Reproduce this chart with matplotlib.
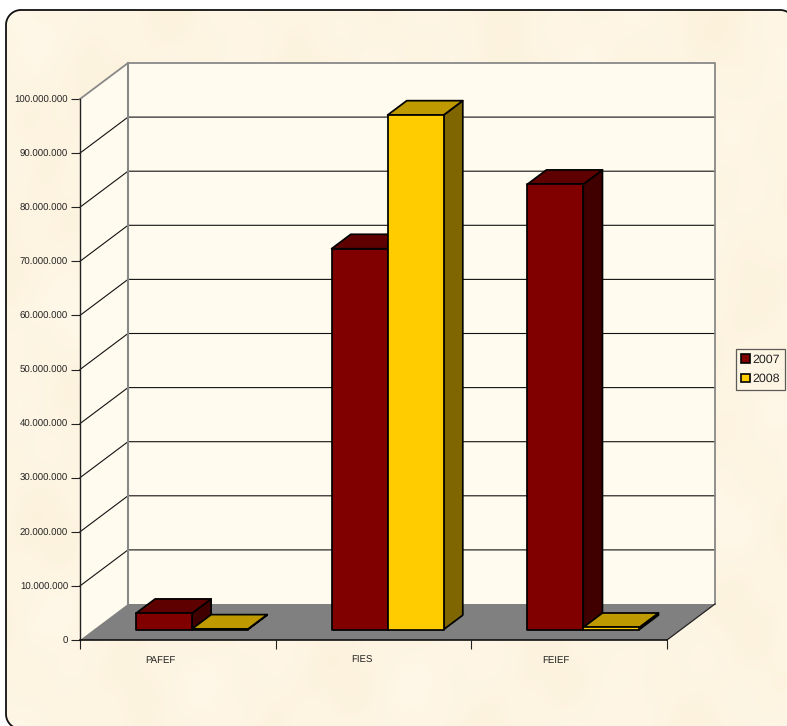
import numpy as np
import matplotlib
matplotlib.use("Agg")
import matplotlib.pyplot as plt
from matplotlib.patches import Polygon, Patch
from matplotlib.ticker import FuncFormatter

plt.rcParams['font.family'] = ['Liberation Sans', 'DejaVu Sans']
plt.rcParams['text.hinting'] = 'none'

categories = ["PAFEF", "FIES", "FEIEF"]
series_names = ["2007", "2008"]
values_2007 = [3000000, 70400000, 82300000]
values_2008 = [100000, 95100000, 400000]
y_ticks = list(range(0, 100000001, 10000000))
label_pos = [0.41, 1.44, 2.43]

W, H = 787, 726
AX_L, AX_R, AX_B, AX_T = 80, 667, 640, 99
fig = plt.figure(figsize=(W / 100, H / 100), dpi=100, facecolor="white")

def rounded_outline(x0, y0, x1, y1, r, n=24):
    pts = []
    centres = [(x0 + r, y0 + r, 180), (x1 - r, y0 + r, 270), (x1 - r, y1 - r, 0), (x0 + r, y1 - r, 90)]
    for cx, cy, a0 in centres:
        a = np.radians(np.linspace(a0, a0 + 90, n))
        pts.extend(zip(cx + r * np.cos(a), cy + r * np.sin(a)))
    return pts

# --- paper-like panel ---
bg = fig.add_axes([0, 0, 1, 1])
bg.axis("off")
yy, xx = np.mgrid[0:H:2, 0:W:2]
tex = (np.sin(xx / 31.0 + yy / 53.0) + np.sin(xx / 17.0 - yy / 29.0 + 1.3) * 0.7
       + np.sin(yy / 23.0 + 0.5) * np.sin(xx / 41.0) * 0.8
       + np.sin(xx / 11.0 + yy / 13.0) * 0.3)
tex = (tex - tex.min()) / (tex.max() - tex.min())
c0 = np.array([252, 242, 220]) / 255
c1 = np.array([255, 247, 232]) / 255
rgb = c0 + (c1 - c0) * tex[..., None]
im = bg.imshow(rgb, extent=(0, W, H, 0), aspect="auto", zorder=1, interpolation="bilinear")
bg.set_xlim(0, W)
bg.set_ylim(H, 0)
outline = rounded_outline(6, 10, 795, 729, 15)
fill = Polygon(outline, closed=True, facecolor="none", edgecolor="none")
bg.add_patch(fill)
im.set_clip_path(fill)
bg.add_patch(Polygon(outline, closed=True, facecolor="none", edgecolor="#111111", linewidth=1.3, zorder=3))

# --- chart axes: front plane of the 3D box ---
ax = fig.add_axes([AX_L / W, 1 - AX_B / H, (AX_R - AX_L) / W, (AX_B - AX_T) / H])
ax.patch.set_alpha(0)
ax.set_xlim(0, 3)
ax.set_ylim(0, 100000000)

px_x = 3 / (AX_R - AX_L)
px_y = 100000000 / (AX_B - AX_T)
DX = 48 * px_x
DY = 36 * px_y
WALL = "#FFFBEF"
kw = dict(clip_on=False)

def off(x, y, d):
    return (x + DX * d, y + DY * d)

# walls and floor
ax.add_patch(Polygon([(0, 0), off(0, 0, 1), off(0, 1e8, 1), (0, 1e8)], facecolor=WALL, edgecolor="none", zorder=1, **kw))
ax.add_patch(Polygon([off(0, 0, 1), off(3, 0, 1), off(3, 1e8, 1), off(0, 1e8, 1)], facecolor=WALL, edgecolor="none", zorder=1, **kw))
ax.add_patch(Polygon([(0, 0), (3, 0), off(3, 0, 1), off(0, 0, 1)], facecolor="#808080", edgecolor="none", zorder=1.5, **kw))
for v in y_ticks[1:-1]:
    xs = [0, off(0, v, 1)[0], off(3, v, 1)[0]]
    ys = [v, off(0, v, 1)[1], off(3, v, 1)[1]]
    ax.plot(xs, ys, color="#111111", lw=0.8, zorder=2, **kw)
ax.plot([0, off(0, 1e8, 1)[0], off(3, 1e8, 1)[0], off(3, 0, 1)[0]],
        [1e8, off(0, 1e8, 1)[1], off(3, 1e8, 1)[1], off(3, 0, 1)[1]],
        color="#888888", lw=1.3, zorder=2, **kw)
ax.plot([off(0, 0, 1)[0], off(0, 1e8, 1)[0]], [off(0, 0, 1)[1], off(0, 1e8, 1)[1]],
        color="#888888", lw=1.5, zorder=2, **kw)
ax.plot([3, off(3, 0, 1)[0]], [0, off(3, 0, 1)[1]], color="#222222", lw=0.9, zorder=2, **kw)

# bars
NEAR, FAR = 0.29, 0.69
GAP = 42 * px_x
BW = 56 * px_x
colors = {"2007": ("#800000", "#5F0000", "#400000"), "2008": ("#FFCC00", "#BF9900", "#806600")}
z = 3
for i, cat in enumerate(categories):
    for j, (name, vals) in enumerate(zip(series_names, (values_2007, values_2008))):
        v = vals[i]
        x0 = i + GAP + j * BW
        x1 = x0 + BW
        front, top, side = colors[name]
        ec = dict(edgecolor="black", linewidth=1.25, joinstyle="round", **kw)
        ax.add_patch(Polygon([off(x1, 0, NEAR), off(x1, 0, FAR), off(x1, v, FAR), off(x1, v, NEAR)], facecolor=side, zorder=z, **ec))
        ax.add_patch(Polygon([off(x0, v, NEAR), off(x1, v, NEAR), off(x1, v, FAR), off(x0, v, FAR)], facecolor=top, zorder=z, **ec))
        ax.add_patch(Polygon([off(x0, 0, NEAR), off(x1, 0, NEAR), off(x1, v, NEAR), off(x0, v, NEAR)], facecolor=front, zorder=z, **ec))
        z += 1

# axes, ticks and labels
for s in ("top", "right"):
    ax.spines[s].set_visible(False)
ax.spines["left"].set_color("#222222")
ax.spines["bottom"].set_color("#111111")
ax.spines["left"].set_linewidth(1.0)
ax.spines["bottom"].set_linewidth(1.2)
ax.spines["left"].set_zorder(20)
ax.spines["bottom"].set_zorder(20)
ax.set_yticks(y_ticks)
ax.yaxis.set_major_formatter(FuncFormatter(lambda v, p: f"{int(v):,}".replace(",", ".")))
ax.tick_params(axis="y", length=6.5, width=0.8, pad=2, labelsize=6.9, color="#222222", labelcolor="#222222")
ax.set_xticks([0, 1, 2, 3])
ax.set_xticklabels([])
ax.tick_params(axis="x", which="major", length=6.5, width=0.8, color="#222222")
ax.set_xticks(label_pos, minor=True)
ax.set_xticklabels(categories, minor=True)
ax.tick_params(axis="x", which="minor", length=0, pad=11.5, labelsize=6.9, labelcolor="#222222")

handles = [Patch(facecolor=colors[n][0], edgecolor="black", linewidth=1.2, label=n) for n in series_names]
leg = ax.legend(handles=handles, loc="upper left", bbox_to_anchor=(736 / W, 1 - 349 / H),
                bbox_transform=fig.transFigure, fontsize=8.9, frameon=True, fancybox=False,
                handlelength=0.7, handleheight=0.7, handletextpad=0.2, labelspacing=0.66,
                borderpad=0.42, borderaxespad=0, labelcolor="#222222")
leg.get_frame().set_facecolor("none")
leg.get_frame().set_edgecolor("#333333")
leg.get_frame().set_linewidth(0.9)
leg.set_zorder(30)

fig.savefig("out.png", dpi=100)
